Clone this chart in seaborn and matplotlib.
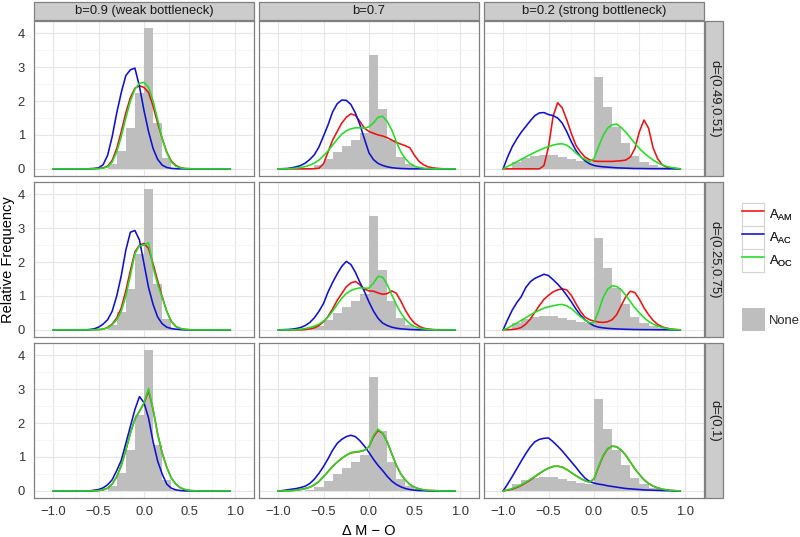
import numpy as np
import matplotlib
matplotlib.use("Agg")
import matplotlib.pyplot as plt
import seaborn as sns
from matplotlib.patches import Rectangle, Patch
from matplotlib.lines import Line2D
from matplotlib.legend_handler import HandlerLine2D

# ---------------- data ----------------
X_GRID = [-1.0, -0.95, -0.9, -0.85, -0.8, -0.75, -0.7, -0.65, -0.6, -0.55,
          -0.5, -0.45, -0.4, -0.35, -0.3, -0.25, -0.2, -0.15, -0.1, -0.05,
          0.0, 0.05, 0.1, 0.15, 0.2, 0.25, 0.3, 0.35, 0.4, 0.45,
          0.5, 0.55, 0.6, 0.65, 0.7, 0.75, 0.8, 0.85, 0.9, 0.95]

BIN_EDGES = [-1.1, -1.0, -0.9, -0.8, -0.7, -0.6, -0.5, -0.4, -0.3, -0.2, -0.1,
             0.0, 0.1, 0.2, 0.3, 0.4, 0.5, 0.6, 0.7, 0.8, 0.9, 1.0, 1.1]

HIST_B09 = [0, 0, 0, 0, 0, 0, 0.01, 0.13, 0.53, 1.2, 2.23,
            4.15, 1.36, 0.33, 0.03, 0, 0, 0, 0, 0, 0, 0]
HIST_B07 = [0, 0, 0, 0, 0.02, 0.12, 0.3, 0.49, 0.67, 0.85, 1.07,
            3.35, 1.76, 0.86, 0.34, 0.14, 0.05, 0, 0, 0, 0, 0]
HIST_B02 = [0, 0.02, 0.2, 0.31, 0.38, 0.41, 0.4, 0.36, 0.3, 0.24, 0.19,
            2.72, 1.83, 1.22, 0.75, 0.39, 0.19, 0.1, 0.05, 0.02, 0, 0]

# d=(0.49,0.51)
AM_B09_D1 = [0, 0, 0, 0, 0, 0, 0, 0, 0, 0.005, 0.01, 0.03, 0.08, 0.25, 0.6, 1.1, 1.65, 2.1, 2.38, 2.45,
             2.4, 2.25, 1.85, 1.35, 0.9, 0.5, 0.23, 0.1, 0.04, 0.01, 0.005, 0, 0, 0, 0, 0, 0, 0, 0, 0]
AC_B09_D1 = [0, 0, 0, 0, 0, 0, 0, 0, 0.005, 0.01, 0.03, 0.12, 0.4, 0.95, 1.65, 2.25, 2.75, 2.92, 2.97, 2.43,
             1.72, 1.1, 0.6, 0.28, 0.11, 0.04, 0.015, 0.005, 0, 0, 0, 0, 0, 0, 0, 0, 0, 0, 0, 0]
OC_B09_D1 = [0, 0, 0, 0, 0, 0, 0, 0, 0, 0.002, 0.01, 0.02, 0.06, 0.2, 0.5, 0.95, 1.5, 2.0, 2.35, 2.52,
             2.55, 2.4, 2.0, 1.45, 0.88, 0.48, 0.2, 0.08, 0.03, 0.01, 0.005, 0, 0, 0, 0, 0, 0, 0, 0, 0]

AM_B07_D1 = [0, 0, 0, 0, 0, 0, 0, 0, 0.005, 0.02, 0.15, 0.5, 0.85, 1.1, 1.35, 1.52, 1.62, 1.58, 1.4, 1.2,
             1.1, 1.05, 1.0, 0.97, 0.92, 0.85, 0.78, 0.73, 0.68, 0.62, 0.4, 0.22, 0.12, 0.06, 0.03, 0.015, 0.005, 0, 0, 0]
AC_B07_D1 = [0, 0.005, 0.01, 0.03, 0.06, 0.1, 0.17, 0.28, 0.42, 0.65, 0.97, 1.3, 1.68, 1.92, 2.03, 2.02, 1.9, 1.65, 1.3, 0.88,
             0.47, 0.27, 0.16, 0.1, 0.06, 0.035, 0.02, 0.01, 0.005, 0, 0, 0, 0, 0, 0, 0, 0, 0, 0, 0]
OC_B07_D1 = [0, 0.002, 0.005, 0.01, 0.02, 0.04, 0.07, 0.11, 0.17, 0.26, 0.39, 0.53, 0.7, 0.87, 1.02, 1.12, 1.18, 1.21, 1.21, 1.2,
             1.24, 1.36, 1.52, 1.55, 1.4, 1.15, 0.8, 0.5, 0.3, 0.16, 0.08, 0.04, 0.02, 0.01, 0.005, 0, 0, 0, 0, 0]

AM_B02_D1 = [0, 0, 0, 0, 0, 0, 0, 0, 0, 0.1, 0.65, 1.55, 1.95, 1.8, 1.45, 1.05, 0.7, 0.5, 0.35, 0.27,
             0.23, 0.22, 0.22, 0.22, 0.22, 0.23, 0.24, 0.26, 0.35, 0.6, 1.1, 1.44, 1.2, 0.62, 0.3, 0.12, 0.05, 0.02, 0.01, 0]
AC_B02_D1 = [0, 0.35, 0.65, 0.88, 1.08, 1.25, 1.42, 1.57, 1.65, 1.66, 1.6, 1.57, 1.5, 1.35, 1.1, 0.8, 0.55, 0.37, 0.24, 0.15,
             0.1, 0.075, 0.06, 0.05, 0.04, 0.03, 0.025, 0.02, 0.015, 0.01, 0.01, 0.007, 0.005, 0.004, 0.003, 0.002, 0.002, 0.001, 0.001, 0]
OC_B02_D1 = [0, 0.07, 0.14, 0.21, 0.28, 0.35, 0.42, 0.49, 0.55, 0.61, 0.66, 0.7, 0.73, 0.74, 0.7, 0.6, 0.47, 0.36, 0.28, 0.21,
             0.3, 0.65, 0.98, 1.2, 1.3, 1.32, 1.22, 1.08, 0.92, 0.75, 0.6, 0.47, 0.36, 0.26, 0.18, 0.12, 0.07, 0.04, 0.02, 0]

# d=(0.25,0.75)
AM_B09_D2 = [0, 0, 0, 0, 0, 0, 0, 0, 0, 0.005, 0.01, 0.02, 0.07, 0.17, 0.35, 0.65, 1.15, 1.75, 2.3, 2.5,
             2.55, 2.4, 1.95, 1.45, 0.98, 0.55, 0.25, 0.1, 0.04, 0.015, 0.005, 0, 0, 0, 0, 0, 0, 0, 0, 0]
AC_B09_D2 = [0, 0, 0, 0, 0, 0, 0, 0, 0.01, 0.03, 0.08, 0.17, 0.3, 0.55, 1.0, 1.6, 2.35, 2.88, 2.93, 2.65,
             1.95, 1.25, 0.75, 0.38, 0.18, 0.08, 0.04, 0.02, 0.01, 0, 0, 0, 0, 0, 0, 0, 0, 0, 0, 0]
OC_B09_D2 = [0, 0, 0, 0, 0, 0, 0, 0, 0, 0.005, 0.01, 0.02, 0.06, 0.15, 0.3, 0.55, 1.0, 1.6, 2.25, 2.48,
             2.5, 2.57, 1.85, 1.35, 0.95, 0.55, 0.25, 0.1, 0.04, 0.015, 0.005, 0, 0, 0, 0, 0, 0, 0, 0, 0]

AM_B07_D2 = [0, 0, 0, 0, 0, 0, 0.01, 0.03, 0.06, 0.13, 0.24, 0.4, 0.62, 0.87, 1.07, 1.27, 1.38, 1.43, 1.33, 1.2,
             1.15, 1.14, 1.09, 1.05, 1.07, 1.15, 1.08, 0.85, 0.58, 0.36, 0.2, 0.11, 0.05, 0.025, 0.01, 0.005, 0, 0, 0, 0]
AC_B07_D2 = [0, 0.005, 0.01, 0.02, 0.04, 0.07, 0.13, 0.22, 0.36, 0.55, 0.78, 1.12, 1.4, 1.65, 1.87, 2.02, 1.93, 1.7, 1.4, 1.13,
             0.82, 0.55, 0.34, 0.2, 0.13, 0.08, 0.05, 0.03, 0.02, 0.01, 0.005, 0, 0, 0, 0, 0, 0, 0, 0, 0]
OC_B07_D2 = [0, 0, 0, 0, 0.01, 0.02, 0.04, 0.07, 0.11, 0.17, 0.26, 0.38, 0.55, 0.75, 0.93, 1.07, 1.16, 1.21, 1.24, 1.23,
             1.23, 1.38, 1.58, 1.55, 1.34, 1.04, 0.75, 0.5, 0.31, 0.18, 0.1, 0.05, 0.03, 0.015, 0.005, 0, 0, 0, 0, 0]

AM_B02_D2 = [0, 0.005, 0.01, 0.03, 0.07, 0.17, 0.32, 0.52, 0.72, 0.9, 1.02, 1.12, 1.18, 1.21, 1.18, 1.02, 0.78, 0.55, 0.38, 0.3,
             0.26, 0.23, 0.22, 0.24, 0.3, 0.45, 0.72, 0.98, 1.14, 1.1, 0.9, 0.65, 0.45, 0.28, 0.16, 0.09, 0.05, 0.025, 0.01, 0]
AC_B02_D2 = [0, 0.3, 0.58, 0.8, 0.98, 1.25, 1.42, 1.52, 1.58, 1.64, 1.6, 1.48, 1.35, 1.2, 1.02, 0.83, 0.62, 0.44, 0.3, 0.2,
             0.12, 0.08, 0.06, 0.045, 0.035, 0.028, 0.022, 0.017, 0.013, 0.01, 0.008, 0.006, 0.005, 0.004, 0.003, 0.002, 0.001, 0.001, 0, 0]
OC_B02_D2 = [0, 0.05, 0.13, 0.2, 0.28, 0.36, 0.44, 0.52, 0.58, 0.64, 0.68, 0.71, 0.74, 0.75, 0.71, 0.63, 0.51, 0.39, 0.29, 0.21,
             0.22, 0.55, 0.95, 1.2, 1.3, 1.28, 1.18, 1.02, 0.83, 0.65, 0.5, 0.36, 0.25, 0.17, 0.11, 0.07, 0.04, 0.02, 0.01, 0]

# d=(0,1)
AM_B09_D3 = [0, 0, 0, 0, 0, 0, 0, 0, 0, 0, 0.01, 0.03, 0.08, 0.2, 0.42, 0.75, 1.2, 1.7, 2.12, 2.35,
             2.58, 2.95, 2.4, 1.68, 1.12, 0.7, 0.38, 0.2, 0.09, 0.04, 0.015, 0.005, 0, 0, 0, 0, 0, 0, 0, 0]
AC_B09_D3 = [0, 0, 0, 0, 0, 0, 0, 0, 0, 0.02, 0.04, 0.09, 0.18, 0.33, 0.6, 0.9, 1.4, 1.9, 2.4, 2.78,
             2.6, 2.15, 1.45, 0.88, 0.5, 0.2, 0.08, 0.03, 0.01, 0, 0, 0, 0, 0, 0, 0, 0, 0, 0, 0]
OC_B09_D3 = [0, 0, 0, 0, 0, 0, 0, 0, 0, 0, 0.01, 0.03, 0.08, 0.2, 0.42, 0.75, 1.2, 1.7, 2.12, 2.35,
             2.6, 3.02, 2.4, 1.68, 1.12, 0.7, 0.38, 0.2, 0.09, 0.04, 0.015, 0, 0, 0, 0, 0, 0, 0, 0, 0]

AM_B07_D3 = [0, 0, 0.005, 0.01, 0.02, 0.04, 0.07, 0.11, 0.18, 0.28, 0.42, 0.57, 0.72, 0.85, 0.96, 1.05, 1.12, 1.14, 1.16, 1.2,
             1.3, 1.6, 1.78, 1.7, 1.45, 1.1, 0.76, 0.5, 0.32, 0.19, 0.11, 0.06, 0.03, 0.015, 0.01, 0.005, 0, 0, 0, 0]
AC_B07_D3 = [0, 0.01, 0.03, 0.05, 0.07, 0.1, 0.14, 0.22, 0.35, 0.52, 0.72, 0.95, 1.2, 1.4, 1.52, 1.6, 1.64, 1.6, 1.48, 1.32,
             1.13, 0.93, 0.75, 0.6, 0.43, 0.29, 0.19, 0.12, 0.07, 0.04, 0.02, 0.01, 0.005, 0, 0, 0, 0, 0, 0, 0]
OC_B07_D3 = [0, 0, 0.005, 0.01, 0.02, 0.04, 0.07, 0.11, 0.18, 0.28, 0.42, 0.57, 0.72, 0.85, 0.96, 1.05, 1.13, 1.15, 1.17, 1.2,
             1.3, 1.64, 1.82, 1.7, 1.45, 1.1, 0.76, 0.5, 0.32, 0.19, 0.11, 0.06, 0.03, 0.015, 0.01, 0.005, 0, 0, 0, 0]

AM_B02_D3 = [0, 0.02, 0.05, 0.1, 0.16, 0.24, 0.32, 0.42, 0.51, 0.6, 0.67, 0.72, 0.73, 0.7, 0.63, 0.54, 0.45, 0.37, 0.3, 0.26,
             0.35, 0.7, 1.03, 1.24, 1.32, 1.3, 1.2, 1.05, 0.85, 0.65, 0.48, 0.33, 0.22, 0.14, 0.09, 0.05, 0.03, 0.015, 0.005, 0]
AC_B02_D3 = [0, 0.2, 0.42, 0.65, 0.88, 1.1, 1.3, 1.45, 1.52, 1.55, 1.56, 1.45, 1.32, 1.18, 1.02, 0.86, 0.7, 0.53, 0.38, 0.28,
             0.23, 0.2, 0.18, 0.15, 0.13, 0.11, 0.09, 0.07, 0.06, 0.05, 0.04, 0.03, 0.025, 0.02, 0.015, 0.01, 0.007, 0.004, 0.002, 0]
OC_B02_D3 = [0, 0.03, 0.07, 0.12, 0.18, 0.26, 0.34, 0.43, 0.52, 0.6, 0.67, 0.72, 0.73, 0.7, 0.63, 0.54, 0.45, 0.37, 0.3, 0.26,
             0.35, 0.72, 1.05, 1.25, 1.32, 1.3, 1.2, 1.05, 0.85, 0.65, 0.48, 0.33, 0.22, 0.14, 0.09, 0.05, 0.03, 0.015, 0.005, 0]

B_LABELS = ["b=0.9 (weak bottleneck)", "b=0.7", "b=0.2 (strong bottleneck)"]
D_LABELS = ["d=(0.49,0.51)", "d=(0.25,0.75)", "d=(0,1)"]
SERIES_LABELS = [r"A$_{\mathrm{AM}}$", r"A$_{\mathrm{AC}}$", r"A$_{\mathrm{OC}}$"]
HIST_LABEL = "None"
X_TICKS = [-1.0, -0.5, 0.0, 0.5, 1.0]
X_TICK_LABELS = ["\u22121.0", "\u22120.5", "0.0", "0.5", "1.0"]
Y_TICKS = [0, 1, 2, 3, 4]
X_LABEL = "\u0394 M \u2212 O"
Y_LABEL = "Relative Frequency"

HISTS = [HIST_B09, HIST_B07, HIST_B02]
CURVES = [
    [(AM_B09_D1, AC_B09_D1, OC_B09_D1), (AM_B07_D1, AC_B07_D1, OC_B07_D1), (AM_B02_D1, AC_B02_D1, OC_B02_D1)],
    [(AM_B09_D2, AC_B09_D2, OC_B09_D2), (AM_B07_D2, AC_B07_D2, OC_B07_D2), (AM_B02_D2, AC_B02_D2, OC_B02_D2)],
    [(AM_B09_D3, AC_B09_D3, OC_B09_D3), (AM_B07_D3, AC_B07_D3, OC_B07_D3), (AM_B02_D3, AC_B02_D3, OC_B02_D3)],
]

# ---------------- style ----------------
sns.set_style("white")
plt.rcParams["font.family"] = ["Liberation Sans", "DejaVu Sans"]
plt.rcParams["mathtext.fontset"] = "custom"
plt.rcParams["mathtext.rm"] = "Liberation Sans"
plt.rcParams["mathtext.it"] = "Liberation Sans:italic"
plt.rcParams["mathtext.bf"] = "Liberation Sans:bold"

COLORS = ["#EE1111", "#1010D0", "#22DD22"]
GREY = "#BEBEBE"
BORDER = "#808080"
STRIP = "#CCCCCC"
TXT = "#1A1A1A"
TICKTXT = "#333333"
FS = 9.4

fig, axes = plt.subplots(3, 3, figsize=(8.0, 5.37), dpi=100, sharex=True, sharey=True)
fig.subplots_adjust(left=0.0425, right=0.88, top=0.9609, bottom=0.0726, wspace=0.0227, hspace=0.039)

bin_centers = [(BIN_EDGES[i] + BIN_EDGES[i + 1]) / 2 for i in range(len(BIN_EDGES) - 1)]

for r in range(3):
    for c in range(3):
        ax = axes[r, c]
        ax.set_facecolor("white")
        sns.histplot(x=bin_centers, weights=HISTS[c], bins=BIN_EDGES, stat="count",
                     element="step", fill=True, color=GREY, alpha=1, linewidth=0, ax=ax)
        for vals, col in zip(CURVES[r][c], COLORS):
            sns.lineplot(x=X_GRID, y=vals, color=col, linewidth=1.15, ax=ax, legend=False)
        ax.set_xlim(-1.21, 1.21)
        ax.set_ylim(-0.21, 4.36)
        ax.set_xticks(X_TICKS)
        ax.set_xticks([-0.75, -0.25, 0.25, 0.75], minor=True)
        ax.set_yticks(Y_TICKS)
        ax.set_yticks([0.5, 1.5, 2.5, 3.5], minor=True)
        ax.grid(True, which="major", color="#E6E6E6", linewidth=0.8)
        ax.grid(True, which="minor", color="#F5F5F5", linewidth=0.6)
        ax.set_axisbelow(True)
        ax.set_xlabel("")
        ax.set_ylabel("")
        for sp in ax.spines.values():
            sp.set_color(BORDER)
            sp.set_linewidth(0.9)
        ax.tick_params(which="minor", length=0)
        ax.tick_params(which="major", length=3, width=0.8, color=TICKTXT, labelsize=FS,
                       labelcolor=TICKTXT)
        ax.tick_params(axis="x", pad=3.0)
        ax.tick_params(axis="y", pad=3.5)
        if c != 0:
            ax.tick_params(axis="y", length=0)
        if r != 2:
            ax.tick_params(axis="x", length=0)
        if r == 2:
            ax.set_xticklabels(X_TICK_LABELS)
        # top strips
        if r == 0:
            ax.add_patch(Rectangle((0, 1.0065), 1, 0.116, transform=ax.transAxes, clip_on=False,
                                   facecolor=STRIP, edgecolor=BORDER, linewidth=0.9))
            ax.text(0.5, 1.0645, B_LABELS[c], transform=ax.transAxes, ha="center", va="center",
                    fontsize=FS, color=TXT)
        # right strips
        if c == 2:
            ax.add_patch(Rectangle((1.0045, 0), 0.082, 1, transform=ax.transAxes, clip_on=False,
                                   facecolor=STRIP, edgecolor=BORDER, linewidth=0.9))
            ax.text(1.0455, 0.5, D_LABELS[r], transform=ax.transAxes, ha="center", va="center",
                    rotation=-90, fontsize=FS, color=TXT)

fig.text(369 / 800, 1 - 535 / 537, X_LABEL, ha="center", va="baseline", fontsize=10.5, color="black")
fig.text(8 / 800, 1 - 259.5 / 537, Y_LABEL, ha="center", va="center", rotation=90, fontsize=10.5, color="black")


class BoxedLine(HandlerLine2D):
    def create_artists(self, legend, orig_handle, xdescent, ydescent, width, height, fontsize, trans):
        box = Rectangle((-xdescent, -ydescent), width, height, facecolor="white",
                        edgecolor="#D4D4D4", linewidth=0.8, transform=trans)
        arts = super().create_artists(legend, orig_handle, xdescent, ydescent, width, height, fontsize, trans)
        return [box] + list(arts)


fs_px = FS * 100 / 72
key_h = (23 / fs_px - 0.245) / 0.65
line_handles = [Line2D([0], [0], color=col, linewidth=1.15) for col in COLORS]
leg1 = fig.legend(line_handles, SERIES_LABELS, loc="upper left",
                  bbox_to_anchor=(742 / 800, 1 - 203 / 537), frameon=False,
                  handler_map={Line2D: BoxedLine(marker_pad=0.05)},
                  handlelength=22 / fs_px, handleheight=key_h, labelspacing=0,
                  handletextpad=0.35, borderpad=0, borderaxespad=0, fontsize=FS)
fig.add_artist(leg1)
leg2 = fig.legend([Patch(facecolor=GREY, edgecolor="none")], [HIST_LABEL], loc="upper left",
                  bbox_to_anchor=(742 / 800, 1 - 308 / 537), frameon=False,
                  handlelength=23 / fs_px, handleheight=key_h, labelspacing=0,
                  handletextpad=0.3, borderpad=0, borderaxespad=0, fontsize=FS)

fig.savefig("out.png", dpi=100, facecolor="white")
